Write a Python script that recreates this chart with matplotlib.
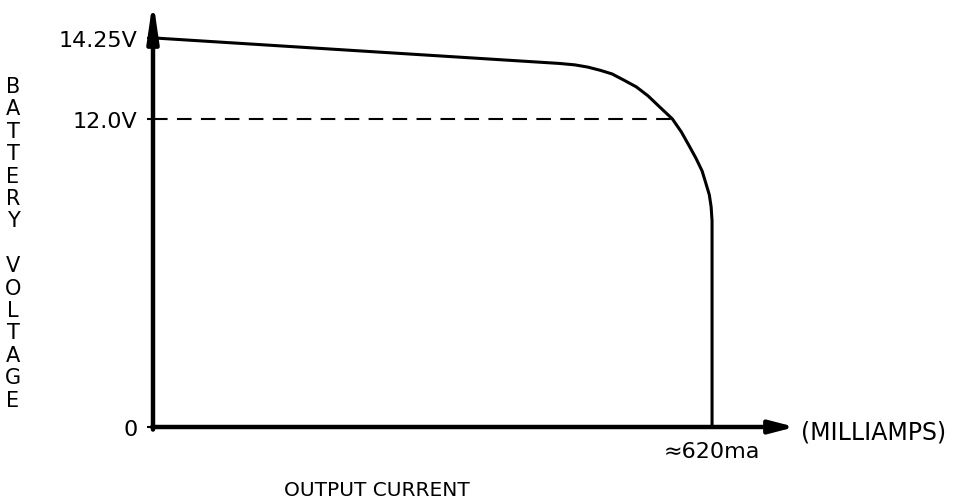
import matplotlib

matplotlib.use("Agg")
import matplotlib.pyplot as plt
import numpy as np
from matplotlib.patches import ArrowStyle
from matplotlib.scale import FuncScale

# output current (mA) vs battery voltage (V) along the discharge curve
current_ma = [0, 451, 468, 482, 496, 509, 522, 536, 549, 562, 576,
              586, 594, 602, 609, 613, 617, 619, 620, 620, 620]
voltage_v = [14.25, 13.54, 13.50, 13.44, 13.35, 13.25, 13.08, 12.89, 12.64,
             12.33, 12.0, 11.49, 10.99, 10.48, 9.97, 9.51, 9.04, 8.57,
             8.03, 7.32, 0]

y_ticks = [0, 12.0, 14.25]
y_tick_labels = ["0", "12.0V", "14.25V"]
x_ticks = [620]
x_tick_labels = ["≈620ma"]
cutoff_v = 12.0
cutoff_ma = 576

# the voltage axis is drawn schematically: the top band is stretched
knots_v = np.array([-10.0, 0.0, 12.0, 14.25, 30.0])
knots_h = np.array([-256.7, 0.0, 308.0, 389.0, 956.0])


def fwd(v):
    return np.interp(v, knots_v, knots_h)


def inv(h):
    return np.interp(h, knots_h, knots_v)


fig = plt.figure(figsize=(9.56, 5.02), dpi=100)
ax = fig.add_axes([153 / 956, 74 / 502, 642 / 956, 419 / 502])
ax.set_yscale(FuncScale(ax.yaxis, (fwd, inv)))
ax.set_xlim(0, 712)
ax.set_ylim(0, 15.08)
for s in ax.spines.values():
    s.set_visible(False)

ax.plot(current_ma, voltage_v, color="black", lw=2.2, clip_on=False,
        solid_joinstyle="round", zorder=3)
ax.plot([0, cutoff_ma], [cutoff_v, cutoff_v], color="black", lw=1.5,
        dashes=(7, 4.5), clip_on=False, zorder=2)

# axes drawn as thick arrows
ax.annotate("", xy=(0, 15.3), xytext=(0, -0.1), annotation_clip=False,
            arrowprops=dict(arrowstyle=ArrowStyle("-|>", head_length=1.5, head_width=0.22),
                            color="black", lw=3.2, shrinkA=0, shrinkB=0,
                            mutation_scale=15))
ax.annotate("", xy=(712, 0), xytext=(-1, 0), annotation_clip=False,
            arrowprops=dict(arrowstyle=ArrowStyle("-|>", head_length=1.0, head_width=0.26),
                            color="black", lw=3.2, shrinkA=0, shrinkB=0,
                            mutation_scale=15))

ax.set_yticks(y_ticks, y_tick_labels, fontsize=16)
ax.tick_params(axis="y", length=4, width=1.5, pad=7, direction="out")
ax.set_xticks(x_ticks, x_tick_labels, fontsize=16)
ax.tick_params(axis="x", length=0, pad=10)

ax.annotate("(MILLIAMPS)", xy=(712, 0), xytext=(4, -3), textcoords="offset points",
            ha="left", va="center", fontsize=17, annotation_clip=False)

fig.text(377 / 956, 11 / 502, "OUTPUT CURRENT", ha="center", va="center", fontsize=14.5)

label = "BATTERY VOLTAGE"
for i, ch in enumerate(label):
    fig.text(13 / 956, 1 - (87 + i * 22.4) / 502, ch, ha="center", va="center",
             fontsize=15)

fig.savefig("out.png", dpi=100)
